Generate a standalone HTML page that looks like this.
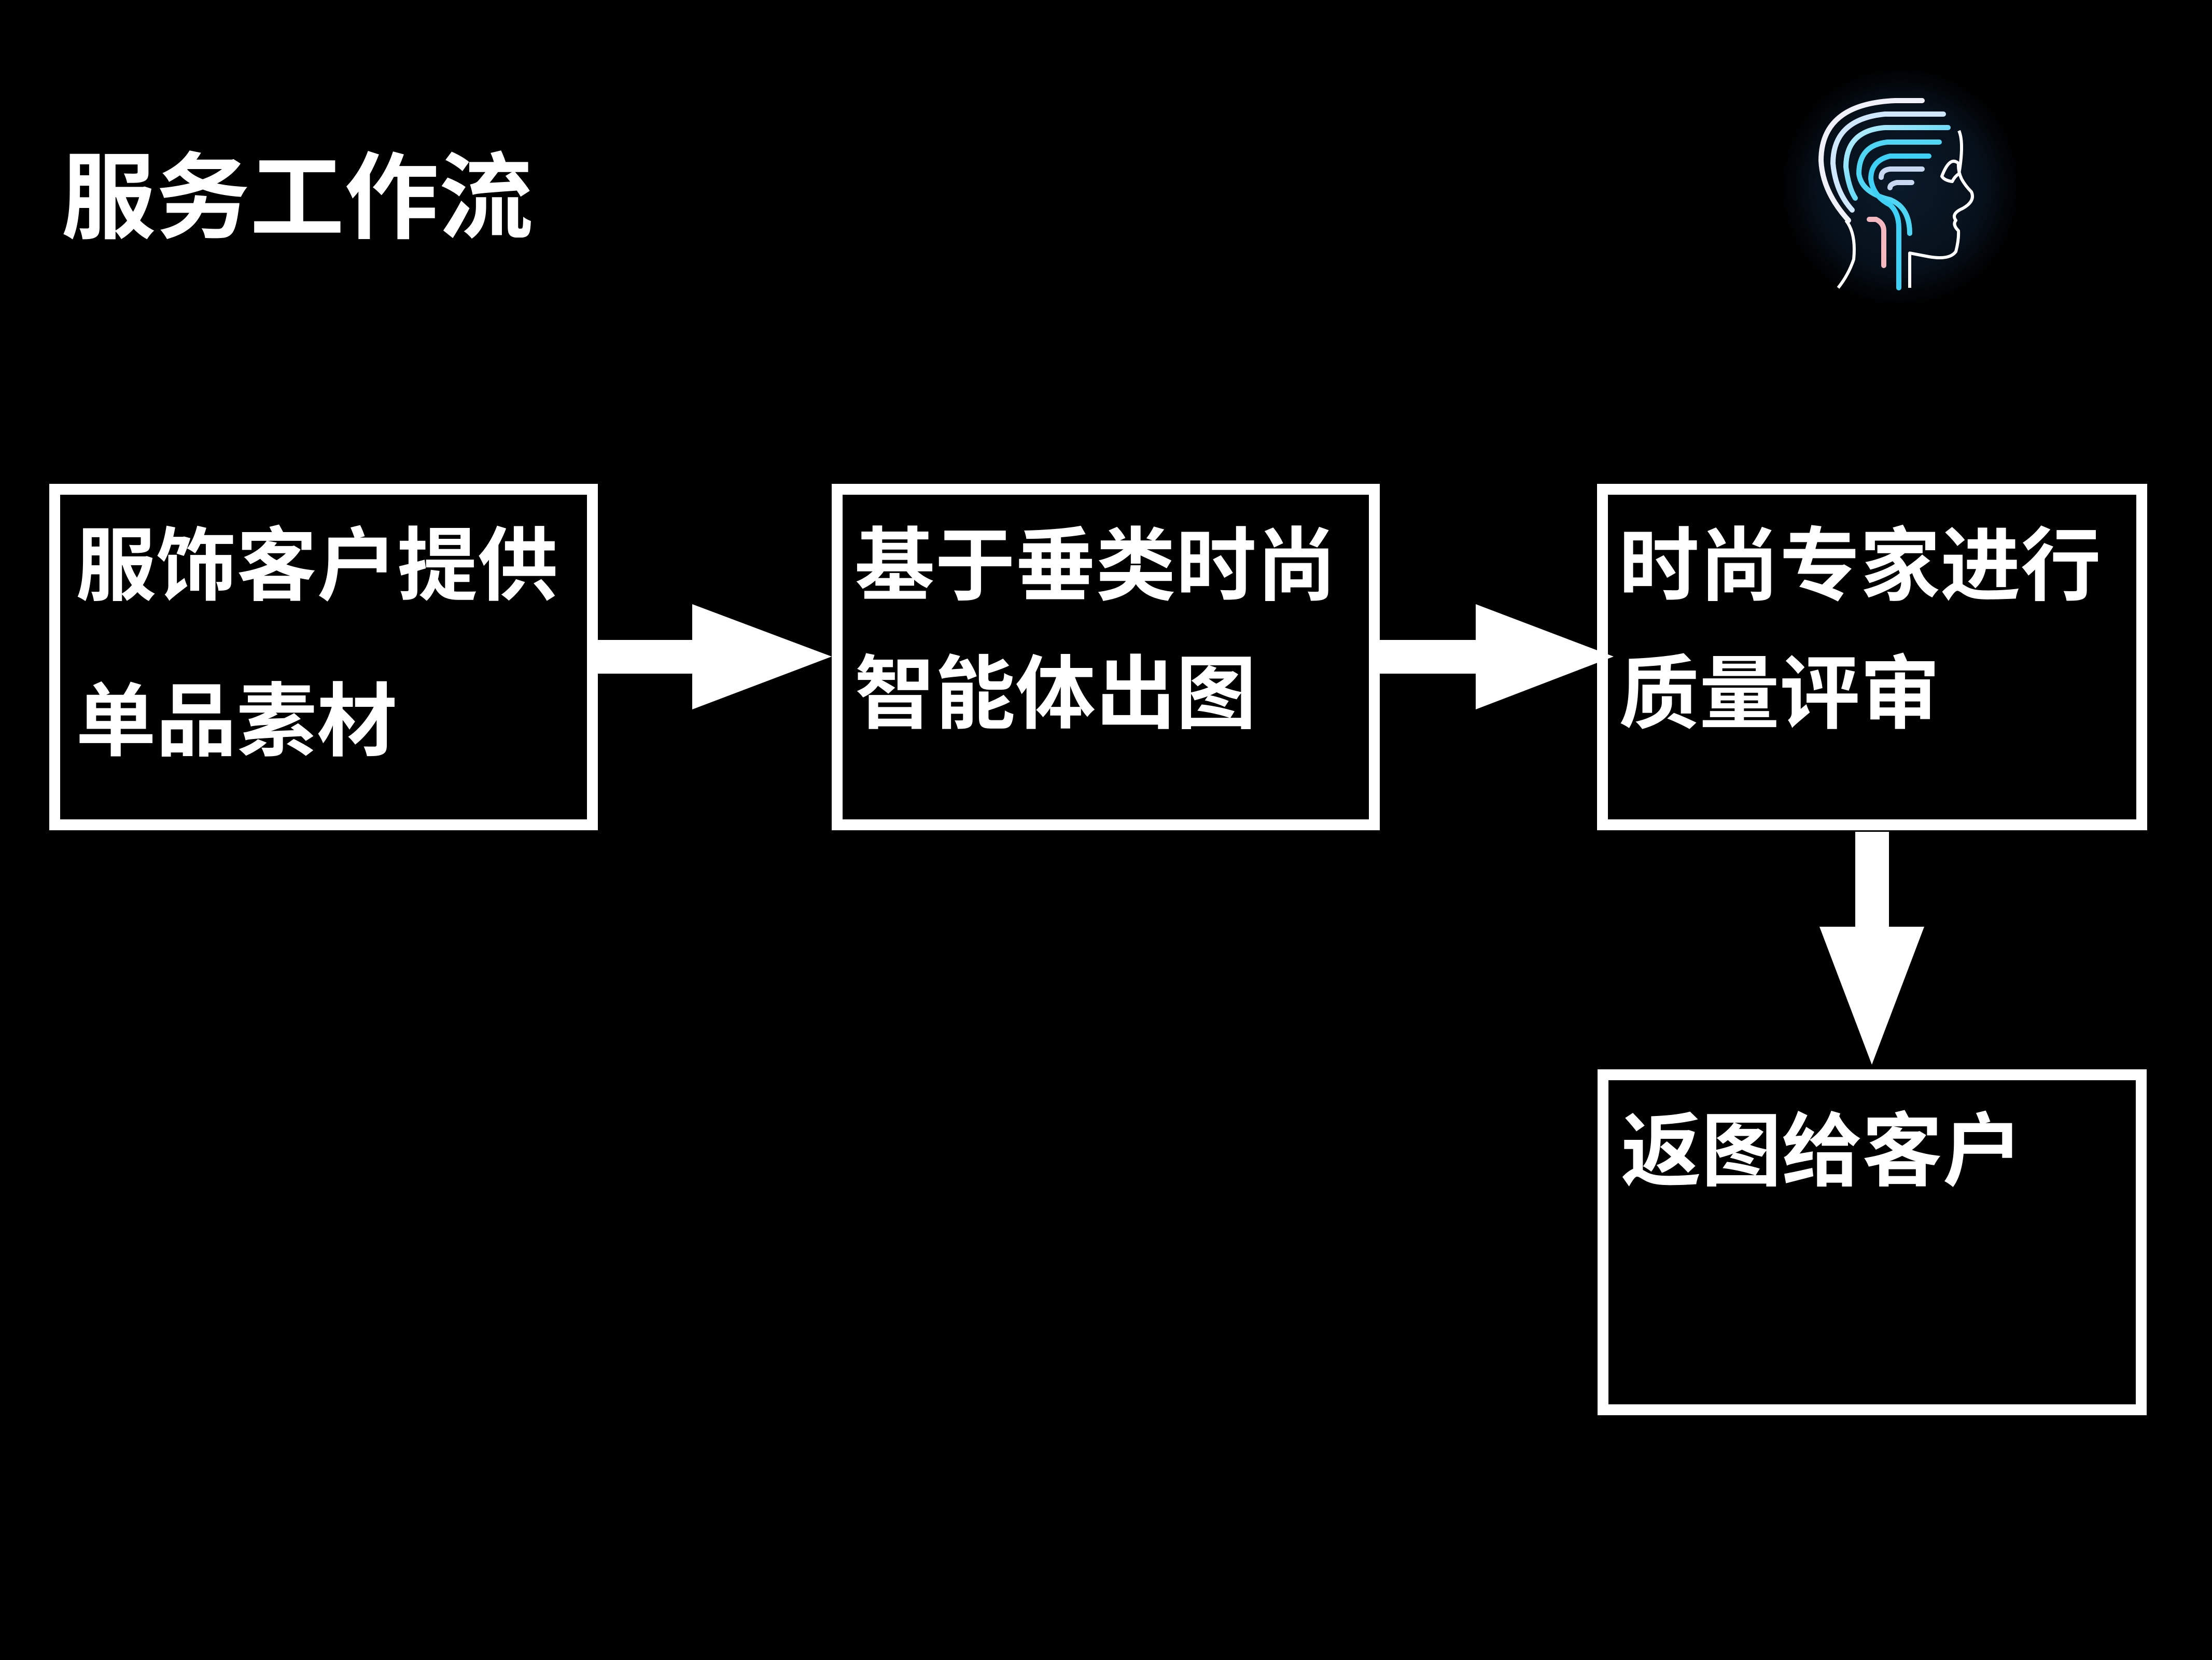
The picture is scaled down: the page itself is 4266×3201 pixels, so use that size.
<!DOCTYPE html>
<html><head><meta charset="utf-8"><style>
html,body{margin:0;padding:0;background:#000;}
svg{display:block;}
text{font-family:"Liberation Sans","Noto Sans CJK SC",sans-serif;font-weight:bold;fill:#fff;}
</style></head><body>
<svg width="4266" height="3201" viewBox="0 0 4266 3201" xmlns="http://www.w3.org/2000/svg">
<rect width="4266" height="3201" fill="#000"/>
<text x="118" y="445" font-size="182">服务工作流</text>

<!-- boxes -->
<g fill="none" stroke="#fff" stroke-width="21">
<rect x="105.5" y="943.5" width="1037" height="647"/>
<rect x="1614.5" y="943.5" width="1036" height="647"/>
<rect x="3090.5" y="943.5" width="1040" height="647"/>
<rect x="3091.5" y="2072.5" width="1038" height="646"/>
</g>

<!-- arrows -->
<g fill="#fff">
<polygon points="1153,1234 1335,1234 1335,1165 1604,1266 1335,1368 1335,1299 1153,1299"/>
<polygon points="2661,1234 2846,1234 2846,1165 3112,1266 2846,1368 2846,1299 2661,1299"/>
<polygon points="3578,1604 3643,1604 3643,1787 3711,1787 3610,2053 3509,1787 3578,1787"/>
</g>

<g font-size="155">
<text x="146" y="1145">服饰客户提供</text>
<text x="146" y="1445">单品素材</text>
<text x="1648" y="1145">基于垂类时尚</text>
<text x="1648" y="1392">智能体出图</text>
<text x="3122" y="1145">时尚专家进行</text>
<text x="3122" y="1392">质量评审</text>
<text x="3126" y="2274">返图给客户</text>
</g>

<!-- logo -->
<defs>
<radialGradient id="glow" cx="50%" cy="50%" r="50%">
<stop offset="0" stop-color="#0b1a2a"/>
<stop offset="0.7" stop-color="#06101a"/>
<stop offset="1" stop-color="#000"/>
</radialGradient>
<linearGradient id="cy" x1="0" y1="0" x2="1" y2="1">
<stop offset="0" stop-color="#bfefff"/><stop offset="1" stop-color="#1ec8f0"/>
</linearGradient>
</defs>
<g transform="translate(3400,100)">
<rect x="0" y="0" width="500" height="455" fill="#000"/>
<circle cx="265" cy="260" r="230" fill="url(#glow)"/>
<g fill="none" stroke-linecap="round" stroke-width="10">
<path d="M307 94 H255 Q112 100 112 210 Q115 270 165 325" stroke="#f0f0f8"/>
<path d="M348 120 H235 Q135 130 135 215 Q140 270 172 305" stroke="#cfe8ff"/>
<path d="M357 146 H235 Q160 152 160 222 Q165 262 178 282" stroke="url(#cy)"/>
<path d="M340 174 H240 Q185 180 185 235 Q190 272 245 285 Q283 300 283 350" stroke="#4fd6f5"/>
<path d="M320 201 H245 Q208 210 208 245 Q212 278 245 295 Q262 310 262 340 V455" stroke="#3fd0f5"/>
<path d="M307 226 H245 Q228 228 228 242" stroke="#c8d8f0"/>
<path d="M287 252 H258 Q245 255 245 262" stroke="#c8d8f0"/>
<path d="M205 323 H218 Q233 330 233 345 V412" stroke="#f3b8c0"/>
</g>
<g fill="none" stroke="#fff" stroke-width="6" stroke-linejoin="round">
<path d="M283 455 V388 L320 395 Q360 402 372 385 Q378 362 377 345 Q365 333 372 325 Q362 312 385 302 Q410 288 402 270 Q390 258 383 245 Q376 230 377 215 Q360 200 345 240 Q350 248 365 250 Q370 240 378 235 Q388 175 378 152"/>
<path d="M160 325 Q180 350 175 400 Q165 430 145 455"/>
</g>
</g>
</svg>
</body></html>
